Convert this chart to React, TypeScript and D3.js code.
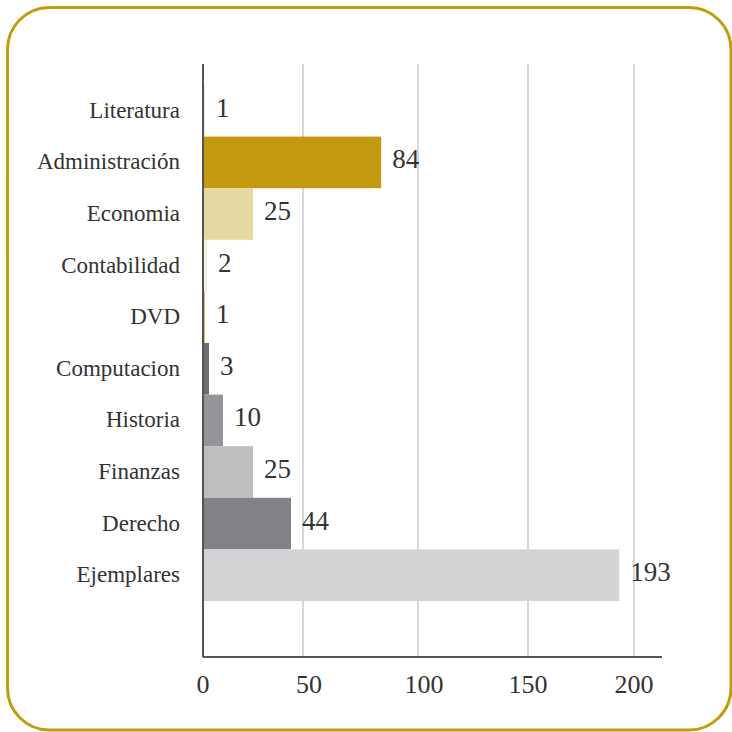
import React from 'react'
import * as d3 from 'd3'

// chart data
const categories = [
  'Literatura',
  'Administración',
  'Economia',
  'Contabilidad',
  'DVD',
  'Computacion',
  'Historia',
  'Finanzas',
  'Derecho',
  'Ejemplares'
]
const values = [1, 84, 25, 2, 1, 3, 10, 25, 44, 193]
const tickValues = [0, 50, 100, 150, 200]

// bar fills, same order as categories
const barColors = [
  '#F4EEDD', '#C49B0E', '#E5D8A0', '#F7F2E3', '#D8BC62',
  '#6D6E71', '#939598', '#BCBEC0', '#808285', '#D1D3D4'
]

const W = 732
const H = 732
const FONT = "'Liberation Serif', 'DejaVu Serif', serif"

const plot = { left: 203, right: 662, top: 64, bottom: 657 }

export default function App() {
  // the original axis is not evenly spaced, so use a piecewise linear scale
  const x = d3.scaleLinear()
    .domain(tickValues)
    .range([203, 303, 418, 528, 634])

  const y = d3.scaleBand<string>()
    .domain(categories)
    .range([85, 601])
    .paddingInner(0)

  const textStyle = { fontFamily: FONT }

  return (
    <svg
      width={W}
      height={H}
      style={{ position: 'absolute', left: 0, top: 0, background: '#fff' }}
    >
      {/* frame */}
      <rect
        x={7.5}
        y={7.5}
        width={723.5}
        height={722.5}
        rx={42}
        fill="#fff"
        stroke="#C49B0E"
        strokeWidth={3}
      />

      {/* grid lines */}
      {tickValues.slice(1).map(t => (
        <line
          key={t}
          x1={x(t)}
          x2={x(t)}
          y1={plot.top}
          y2={plot.bottom}
          stroke="#CBCBCB"
          strokeWidth={1.5}
        />
      ))}

      {/* bars */}
      {categories.map((c, i) => (
        <rect
          key={c}
          x={x(0)}
          y={y(c)!}
          width={x(values[i]) - x(0)}
          height={y.bandwidth()}
          fill={barColors[i]}
        />
      ))}

      {/* value labels */}
      {categories.map((c, i) => (
        <text
          key={c}
          x={x(values[i]) + 11}
          y={y(c)! + y.bandwidth() / 2 + 6}
          fontSize={27}
          fill="#333"
          style={textStyle}
        >
          {values[i]}
        </text>
      ))}

      {/* category labels */}
      {categories.map(c => (
        <text
          key={c}
          x={180}
          y={y(c)! + y.bandwidth() / 2 + 7}
          fontSize={23}
          textAnchor="end"
          fill="#333"
          style={textStyle}
        >
          {c}
        </text>
      ))}

      {/* axes */}
      <line x1={plot.left} x2={plot.left} y1={plot.top} y2={plot.bottom} stroke="#555" strokeWidth={2} />
      <line x1={plot.left} x2={plot.right} y1={plot.bottom} y2={plot.bottom} stroke="#555" strokeWidth={2} />

      {/* tick labels */}
      {tickValues.map(t => (
        <text
          key={t}
          x={x(t) + (t === 50 || t === 100 ? 6 : 0)}
          y={693}
          fontSize={26}
          textAnchor="middle"
          fill="#333"
          style={textStyle}
        >
          {t}
        </text>
      ))}
    </svg>
  )
}
